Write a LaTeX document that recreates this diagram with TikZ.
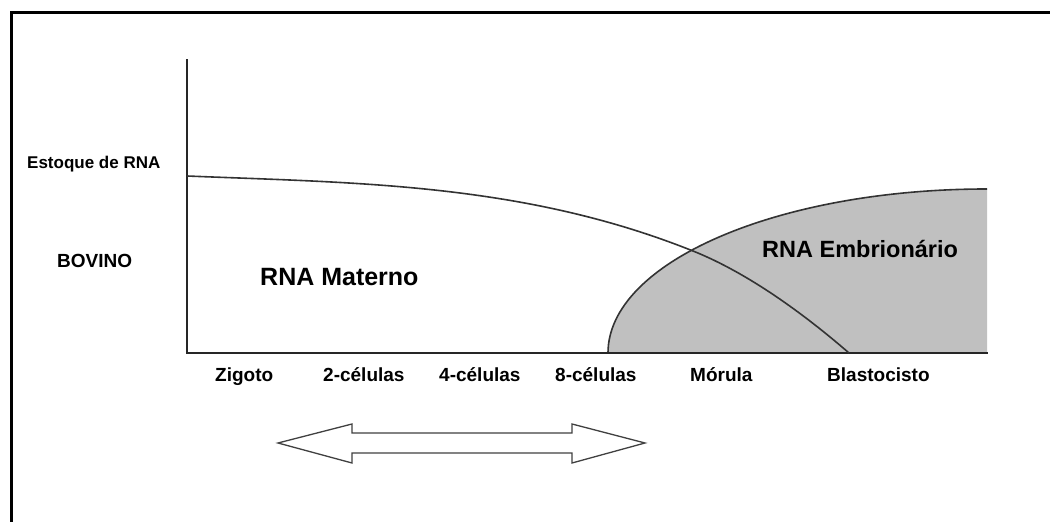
\documentclass[tikz,border=0pt]{standalone}
\usepackage{fontspec}
\setmainfont{Liberation Sans}
\begin{document}
\begin{tikzpicture}[x=1pt,y=1pt,
  axisline/.style={line width=2pt,black!85,line cap=rect},
  curveline/.style={line width=1.6pt,black!80},
  embryo/.style={fill={rgb,255:red,192;green,192;blue,192}},
  lbl/.style={anchor=base west,inner sep=0pt,font=\fontsize{19}{19}\selectfont\bfseries},
  side/.style={anchor=base west,inner sep=0pt,font=\fontsize{#1}{#1}\selectfont\bfseries},
  region/.style={anchor=base west,inner sep=0pt,font=\fontsize{#1}{#1}\selectfont\bfseries},
  twoway/.style={draw=black!75,line width=1.3pt,line join=miter,fill=white}]
\useasboundingbox (0,0) rectangle (1050,522);

% open frame (left and top edges)
\draw[line width=3pt] (11,-2) -- (11,509) -- (1052,509);

% embryonic RNA area: quarter ellipse rising from the 8-cell stage
\coordinate (embstart) at (608,169);
\coordinate (embend) at (987,169);
\fill[embryo] (embstart) arc[start angle=180,end angle=90,x radius=379pt,y radius=164pt] -- (embend) -- cycle;
\draw[curveline] (embstart) arc[start angle=180,end angle=90,x radius=379pt,y radius=164pt];

% axes
\coordinate (origin) at (187,169);
\coordinate (ytop) at (187,462);
\coordinate (xend) at (987,169);
\draw[axisline] (ytop) -- (origin) -- (xend);

% maternal RNA stock, decaying towards the blastocyst
\coordinate (matstart) at (187,346);
\coordinate (matmid) at (693,271);
\coordinate (matend) at (849,169);
\draw[curveline] (matstart) .. controls (357,339) and (523,339) .. (matmid)
  .. controls (748,249) and (804,208) .. (matend);

% side labels
\node[side=17] (stock) at (27,353) {Estoque de RNA};
\node[side=19] (species) at (57,254) {BOVINO};

% region labels
\node[region=25] (maternal) at (260,236) {RNA Materno};
\node[region=23.5] (embryonic) at (762,264) {RNA Embrionário};

% developmental stages
\node[lbl] (zig) at (215,140) {Zigoto};
\node[lbl] (c2)  at (323,140) {2-células};
\node[lbl] (c4)  at (439,140) {4-células};
\node[lbl] (c8)  at (555,140) {8-células};
\node[lbl] (mor) at (690,140) {Mórula};
\node[lbl] (bla) at (827,140) {Blastocisto};

% double-headed block arrow
\draw[twoway] (278,79) -- (352,98) -- (352,89) -- (572,89) -- (572,98) -- (645,79)
  -- (572,59) -- (572,69) -- (352,69) -- (352,59) -- cycle;
\end{tikzpicture}
\end{document}
